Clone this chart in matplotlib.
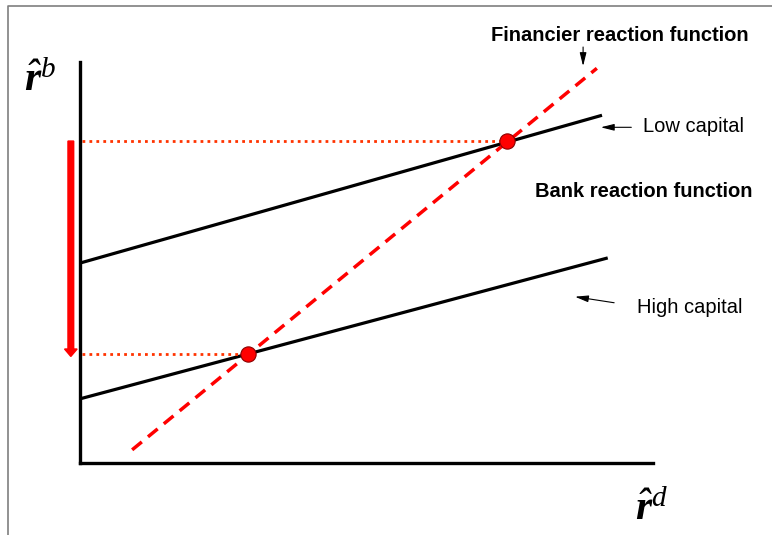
import matplotlib
matplotlib.use("Agg")
import matplotlib.pyplot as plt
from matplotlib.lines import Line2D

plt.rcParams['font.family'] = ['Liberation Sans', 'DejaVu Sans']
plt.rcParams['mathtext.fontset'] = 'custom'
plt.rcParams['mathtext.it'] = 'Liberation Serif:italic:bold'
plt.rcParams['mathtext.rm'] = 'Liberation Serif:italic'

# Schematic data (axis units)
low_cap_x = [0.0, 9.11]
low_cap_y = [3.49, 6.07]
high_cap_x = [0.0, 9.21]
high_cap_y = [1.12, 3.58]
financier_x = [0.91, 9.02]
financier_y = [0.23, 6.89]
eq_x = [7.45, 2.93]
eq_y = [5.62, 1.90]

fig = plt.figure(figsize=(7.72, 5.35), dpi=100)
ax = fig.add_axes([80/772, 72/535, 573/772, 401/535])
ax.set_xlim(0, 10)
ax.set_ylim(0, 7)
for s in ['top', 'right']:
    ax.spines[s].set_visible(False)
for s in ['left', 'bottom']:
    ax.spines[s].set_linewidth(2.4)
    ax.spines[s].set_color('black')
ax.set_xticks([])
ax.set_yticks([])

# frame border
fig.add_artist(Line2D([8/772, 8/772, 1.0], [0.0, 1 - 6/535, 1 - 6/535],
                      transform=fig.transFigure, color='#7f7f7f', lw=1.2))

# bank reaction lines
ax.plot(low_cap_x, low_cap_y, color='black', lw=2.3, solid_capstyle='butt')
ax.plot(high_cap_x, high_cap_y, color='black', lw=2.3, solid_capstyle='butt')

# dotted guides
for x, y in zip(eq_x, eq_y):
    ax.plot([0.04, x], [y, y], color='#ff3300', lw=2.0, linestyle=(0, (1, 1.5)))

# financier reaction (dashed)
ax.plot(financier_x, financier_y, color='#ff0000', lw=2.5, linestyle=(0, (3.6, 2.3)))

# equilibrium points
ax.plot(eq_x, eq_y, 'o', color='#ff0000', markersize=11,
        markeredgecolor='#8b0000', markeredgewidth=0.8, zorder=5)

# red vertical arrow
ax.arrow(-0.16, eq_y[0], 0, eq_y[1] - 0.04 - eq_y[0], width=0.1, head_width=0.22,
         head_length=0.13, length_includes_head=True, color='#ff0000', clip_on=False)

# axis labels
ax.text(-0.70, 6.68, r'$\hat{r}^{\mathrm{b}}$', fontsize=30, ha='center', va='center')
ax.text(9.98, -0.81, r'$\hat{r}^{\mathrm{d}}$', fontsize=30, ha='center', va='center')

arrow_props = dict(arrowstyle='-|>,head_length=0.8,head_width=0.2', color='black', lw=0.8)

# annotations
ax.text(9.42, 7.46, 'Financier reaction function', fontsize=14.5, fontweight='bold',
        ha='center', va='center')
ax.annotate('', xy=(8.78, 6.88), xytext=(8.78, 7.31), arrowprops=arrow_props,
            annotation_clip=False)

ax.text(9.83, 5.87, 'Low capital', fontsize=14.5, ha='left', va='center')
ax.annotate('', xy=(9.04, 5.86), xytext=(9.67, 5.86), arrowprops=arrow_props,
            annotation_clip=False)

ax.text(9.83, 4.74, 'Bank reaction function', fontsize=14.5, fontweight='bold',
        ha='center', va='center')

ax.text(9.72, 2.72, 'High capital', fontsize=14.5, ha='left', va='center')
ax.annotate('', xy=(8.59, 2.91), xytext=(9.37, 2.79), arrowprops=arrow_props,
            annotation_clip=False)

fig.savefig('out.png', dpi=100)
